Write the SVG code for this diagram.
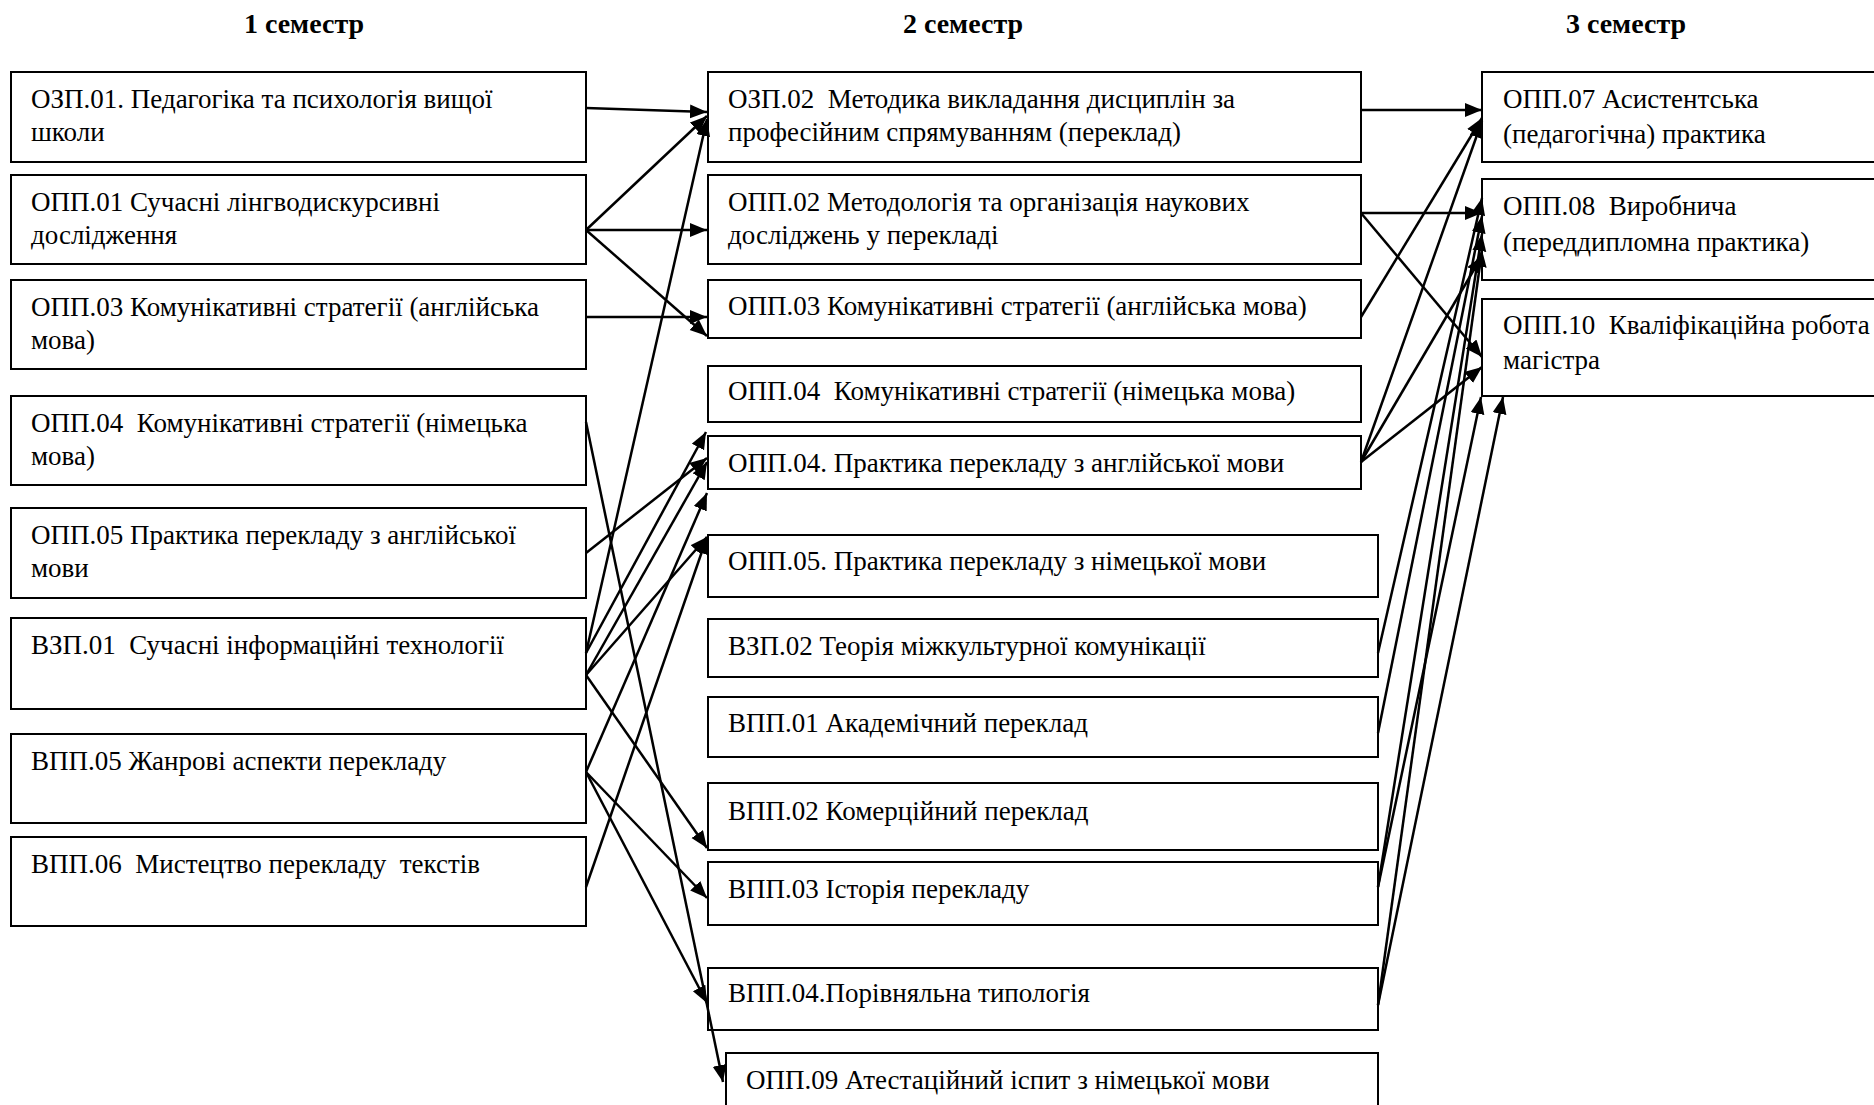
<svg xmlns="http://www.w3.org/2000/svg" width="1874" height="1105" viewBox="0 0 1874 1105">
<style>
  text { font-family: "Liberation Serif", "Times New Roman", serif; font-size: 27px; fill: #000; white-space: pre; }
  .title { font-weight: bold; font-size: 28px; text-anchor: middle; }
  .box { fill: #fff; stroke: #000; stroke-width: 2; }
  .conn line { stroke: #000; stroke-width: 2.5; fill: none; marker-end: url(#arr); }
</style>
<defs>
  <marker id="arr" markerUnits="userSpaceOnUse" markerWidth="20" markerHeight="15" refX="17" refY="7" orient="auto">
    <path d="M0,0 L17,7 L0,14 z" fill="#000"/>
  </marker>
</defs>
<rect width="1874" height="1105" fill="#fff"/>

<g id="titles">
  <text class="title" x="304" y="33">1 семестр</text>
  <text class="title" x="963" y="33">2 семестр</text>
  <text class="title" x="1626" y="33">3 семестр</text>
</g>

<!-- Column 1 -->
<g id="c1-ozp01"><rect class="box" x="11" y="72" width="575" height="90"/>
  <text x="31" y="108">ОЗП.01. Педагогіка та психологія вищої</text><text x="31" y="141">школи</text></g>
<g id="c1-opp01"><rect class="box" x="11" y="175" width="575" height="89"/>
  <text x="31" y="211">ОПП.01 Сучасні лінгводискурсивні</text><text x="31" y="244">дослідження</text></g>
<g id="c1-opp03"><rect class="box" x="11" y="280" width="575" height="89"/>
  <text x="31" y="316">ОПП.03 Комунікативні стратегії (англійська</text><text x="31" y="349">мова)</text></g>
<g id="c1-opp04"><rect class="box" x="11" y="396" width="575" height="89"/>
  <text x="31" y="432">ОПП.04  Комунікативні стратегії (німецька</text><text x="31" y="465">мова)</text></g>
<g id="c1-opp05"><rect class="box" x="11" y="508" width="575" height="90"/>
  <text x="31" y="544">ОПП.05 Практика перекладу з англійської</text><text x="31" y="577">мови</text></g>
<g id="c1-vzp01"><rect class="box" x="11" y="618" width="575" height="91"/>
  <text x="31" y="654">ВЗП.01  Сучасні інформаційні технології</text></g>
<g id="c1-vpp05"><rect class="box" x="11" y="734" width="575" height="89"/>
  <text x="31" y="770">ВПП.05 Жанрові аспекти перекладу</text></g>
<g id="c1-vpp06"><rect class="box" x="11" y="837" width="575" height="89"/>
  <text x="31" y="873">ВПП.06  Мистецтво перекладу  текстів</text></g>

<!-- Column 2 -->
<g id="c2-ozp02"><rect class="box" x="708" y="72" width="653" height="90"/>
  <text x="728" y="108">ОЗП.02  Методика викладання дисциплін за</text><text x="728" y="141">професійним спрямуванням (переклад)</text></g>
<g id="c2-opp02"><rect class="box" x="708" y="175" width="653" height="89"/>
  <text x="728" y="211">ОПП.02 Методологія та організація наукових</text><text x="728" y="244">досліджень у перекладі</text></g>
<g id="c2-opp03"><rect class="box" x="708" y="280" width="653" height="58"/>
  <text x="728" y="315">ОПП.03 Комунікативні стратегії (англійська мова)</text></g>
<g id="c2-opp04n"><rect class="box" x="708" y="366" width="653" height="56"/>
  <text x="728" y="400">ОПП.04  Комунікативні стратегії (німецька мова)</text></g>
<g id="c2-opp04p"><rect class="box" x="708" y="436" width="653" height="53"/>
  <text x="728" y="472">ОПП.04. Практика перекладу з англійської мови</text></g>
<g id="c2-opp05"><rect class="box" x="708" y="535" width="670" height="62"/>
  <text x="728" y="570">ОПП.05. Практика перекладу з німецької мови</text></g>
<g id="c2-vzp02"><rect class="box" x="708" y="619" width="670" height="58"/>
  <text x="728" y="655">ВЗП.02 Теорія міжкультурної комунікації</text></g>
<g id="c2-vpp01"><rect class="box" x="708" y="697" width="670" height="60"/>
  <text x="728" y="732">ВПП.01 Академічний переклад</text></g>
<g id="c2-vpp02"><rect class="box" x="708" y="783" width="670" height="67"/>
  <text x="728" y="820">ВПП.02 Комерційний переклад</text></g>
<g id="c2-vpp03"><rect class="box" x="708" y="862" width="670" height="63"/>
  <text x="728" y="898">ВПП.03 Історія перекладу</text></g>
<g id="c2-vpp04"><rect class="box" x="708" y="968" width="670" height="62"/>
  <text x="728" y="1002">ВПП.04.Порівняльна типологія</text></g>
<g id="c2-opp09"><rect class="box" x="726" y="1053" width="652" height="70"/>
  <text x="746" y="1089">ОПП.09 Атестаційний іспит з німецької мови</text></g>

<!-- Column 3 -->
<g id="c3-opp07"><rect class="box" x="1482" y="72" width="410" height="90"/>
  <text x="1503" y="108">ОПП.07 Асистентська</text><text x="1503" y="143">(педагогічна) практика</text></g>
<g id="c3-opp08"><rect class="box" x="1482" y="179" width="410" height="101"/>
  <text x="1503" y="215">ОПП.08  Виробнича</text><text x="1503" y="251">(переддипломна практика)</text></g>
<g id="c3-opp10"><rect class="box" x="1482" y="299" width="410" height="97"/>
  <text x="1503" y="334">ОПП.10  Кваліфікаційна робота</text><text x="1503" y="369">магістра</text></g>

<g id="connectors" class="conn">
  <line x1="586" y1="108" x2="707" y2="112"/>
  <line x1="586" y1="230" x2="707" y2="116"/>
  <line x1="586" y1="230" x2="707" y2="230"/>
  <line x1="586" y1="230" x2="707" y2="336"/>
  <line x1="586" y1="317" x2="707" y2="317"/>
  <line x1="586" y1="422" x2="723" y2="1082"/>
  <line x1="586" y1="553" x2="707" y2="458"/>
  <line x1="586" y1="653" x2="707" y2="119"/>
  <line x1="586" y1="653" x2="706" y2="432"/>
  <line x1="586" y1="675" x2="707" y2="462"/>
  <line x1="586" y1="675" x2="707" y2="537"/>
  <line x1="586" y1="675" x2="707" y2="848"/>
  <line x1="586" y1="772" x2="707" y2="493"/>
  <line x1="586" y1="772" x2="707" y2="898"/>
  <line x1="586" y1="772" x2="707" y2="1003"/>
  <line x1="586" y1="887" x2="707" y2="537"/>

  <line x1="1361" y1="110" x2="1482" y2="110"/>
  <line x1="1361" y1="213" x2="1482" y2="213"/>
  <line x1="1361" y1="213" x2="1482" y2="357"/>
  <line x1="1361" y1="317" x2="1482" y2="118"/>
  <line x1="1361" y1="462" x2="1482" y2="121"/>
  <line x1="1361" y1="462" x2="1482" y2="256"/>
  <line x1="1361" y1="462" x2="1482" y2="367"/>
  <line x1="1378" y1="653" x2="1482" y2="198"/>
  <line x1="1378" y1="733" x2="1482" y2="216"/>
  <line x1="1378" y1="887" x2="1482" y2="234"/>
  <line x1="1378" y1="887" x2="1481" y2="397"/>
  <line x1="1378" y1="1005" x2="1482" y2="250"/>
  <line x1="1378" y1="1005" x2="1503" y2="397"/>
</g>
</svg>
